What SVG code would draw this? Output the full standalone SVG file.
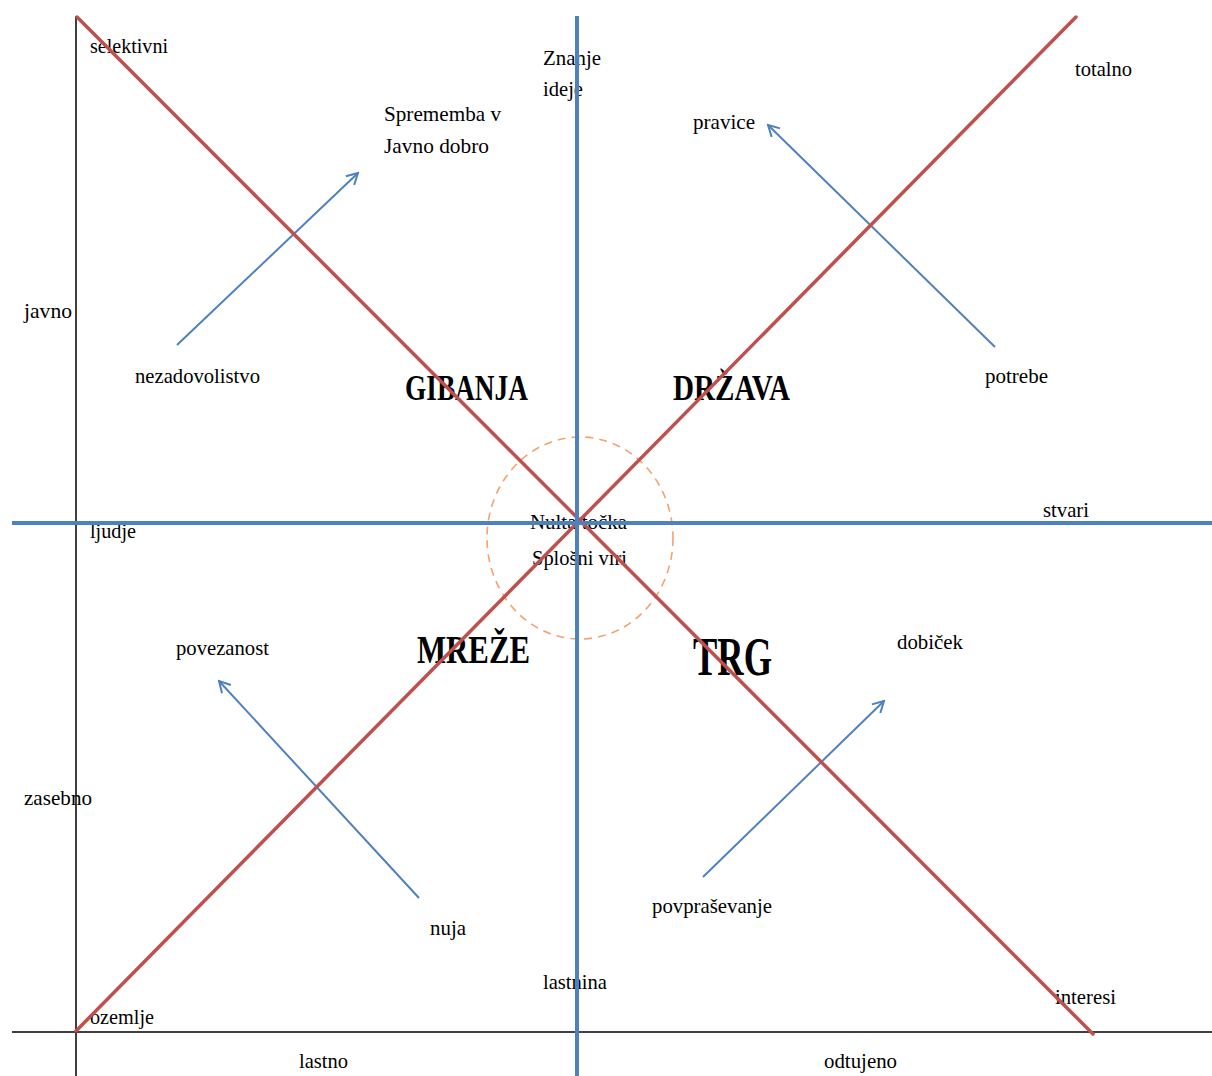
<svg xmlns="http://www.w3.org/2000/svg" width="1212" height="1076" viewBox="0 0 1212 1076">
  <style>
    .axis { stroke: #000; stroke-width: 1.5; fill: none; }
    .blue { stroke: #4f81bd; stroke-width: 4; fill: none; }
    .red { stroke: #c0504d; stroke-width: 3.5; fill: none; stroke-linecap: round; }
    .flow { stroke: #4f81bd; stroke-width: 2; fill: none; marker-end: url(#open); }
    .ring { stroke: #f2a36e; stroke-width: 1.6; stroke-dasharray: 8 6; fill: none; }
    text { font-family: "Liberation Serif", "Times New Roman", "DejaVu Serif", serif; fill: #000; }
    .t { font-size: 22px; }
    .b { font-weight: bold; }
  </style>
  <defs>
    <marker id="open" viewBox="0 0 14 14" refX="12" refY="7" markerWidth="14" markerHeight="14" markerUnits="userSpaceOnUse" orient="auto">
      <polyline points="1,1 12,7 1,13" fill="none" stroke="#4f81bd" stroke-width="2"/>
    </marker>
  </defs>
  <rect width="1212" height="1076" fill="#fff"/>

  <!-- frame axes -->
  <g id="axes">
    <line class="axis" x1="76" y1="16" x2="76" y2="1076"/>
    <line class="axis" x1="12" y1="1032" x2="1212" y2="1032"/>
  </g>

  <!-- quadrant titles -->
  <g id="gibanja"><text class="b" x="405" y="400" font-size="36" textLength="123" lengthAdjust="spacingAndGlyphs">GIBANJA</text></g>
  <g id="drzava"><text class="b" x="673" y="400" font-size="36" textLength="117" lengthAdjust="spacingAndGlyphs">DRŽAVA</text></g>
  <g id="mreze"><text class="b" x="417" y="663" font-size="40" textLength="113" lengthAdjust="spacingAndGlyphs">MREŽE</text></g>
  <g id="trg"><text class="b" x="693" y="675" font-size="54" textLength="79" lengthAdjust="spacingAndGlyphs">TRG</text></g>

  <!-- centre -->
  <g id="centre">
    <text class="t" x="530" y="529" textLength="97" lengthAdjust="spacingAndGlyphs">Nulta točka</text>
    <text class="t" x="532" y="565" textLength="95" lengthAdjust="spacingAndGlyphs">Splošni viri</text>
  </g>

  <!-- corner and axis labels -->
  <g id="selektivni"><text class="t" x="90" y="53" textLength="78" lengthAdjust="spacingAndGlyphs">selektivni</text></g>
  <g id="znanje">
    <text class="t" x="543" y="65" textLength="58" lengthAdjust="spacingAndGlyphs">Znanje</text>
    <text class="t" x="543" y="96" textLength="40" lengthAdjust="spacingAndGlyphs">ideje</text>
  </g>
  <g id="totalno"><text class="t" x="1075" y="76" textLength="57" lengthAdjust="spacingAndGlyphs">totalno</text></g>
  <g id="javno"><text class="t" x="24" y="318" textLength="48" lengthAdjust="spacingAndGlyphs">javno</text></g>
  <g id="ljudje"><text class="t" x="90" y="538" textLength="46" lengthAdjust="spacingAndGlyphs">ljudje</text></g>
  <g id="stvari"><text class="t" x="1043" y="517" textLength="46" lengthAdjust="spacingAndGlyphs">stvari</text></g>
  <g id="zasebno"><text class="t" x="24" y="805" textLength="68" lengthAdjust="spacingAndGlyphs">zasebno</text></g>
  <g id="lastnina"><text class="t" x="543" y="989" textLength="64" lengthAdjust="spacingAndGlyphs">lastnina</text></g>
  <g id="interesi"><text class="t" x="1055" y="1004" textLength="61" lengthAdjust="spacingAndGlyphs">interesi</text></g>
  <g id="ozemlje"><text class="t" x="90" y="1024" textLength="64" lengthAdjust="spacingAndGlyphs">ozemlje</text></g>
  <g id="lastno"><text class="t" x="299" y="1068" textLength="49" lengthAdjust="spacingAndGlyphs">lastno</text></g>
  <g id="odtujeno"><text class="t" x="824" y="1068" textLength="73" lengthAdjust="spacingAndGlyphs">odtujeno</text></g>

  <!-- arrow end labels -->
  <g id="sprememba">
    <text class="t" x="384" y="121" textLength="117" lengthAdjust="spacingAndGlyphs">Sprememba v</text>
    <text class="t" x="384" y="153" textLength="105" lengthAdjust="spacingAndGlyphs">Javno dobro</text>
  </g>
  <g id="nezadovolistvo"><text class="t" x="135" y="383" textLength="125" lengthAdjust="spacingAndGlyphs">nezadovolistvo</text></g>
  <g id="pravice"><text class="t" x="693" y="129" textLength="62" lengthAdjust="spacingAndGlyphs">pravice</text></g>
  <g id="potrebe"><text class="t" x="985" y="383" textLength="63" lengthAdjust="spacingAndGlyphs">potrebe</text></g>
  <g id="povezanost"><text class="t" x="176" y="655" textLength="93" lengthAdjust="spacingAndGlyphs">povezanost</text></g>
  <g id="nuja"><text class="t" x="430" y="935" textLength="36" lengthAdjust="spacingAndGlyphs">nuja</text></g>
  <g id="dobicek"><text class="t" x="897" y="649" textLength="66" lengthAdjust="spacingAndGlyphs">dobiček</text></g>
  <g id="povprasevanje"><text class="t" x="652" y="913" textLength="120" lengthAdjust="spacingAndGlyphs">povpraševanje</text></g>

  <!-- connectors: drawn last so the lines run over the labels -->
  <g id="connectors">
    <ellipse class="ring" cx="580" cy="538" rx="93" ry="101"/>
    <line class="flow" x1="177" y1="345" x2="358" y2="173"/>
    <line class="flow" x1="995" y1="347" x2="768" y2="125"/>
    <line class="flow" x1="419" y1="898" x2="219" y2="681"/>
    <line class="flow" x1="703" y1="877" x2="884" y2="701"/>
    <line class="red" x1="77" y1="17" x2="1093" y2="1034"/>
    <line class="red" x1="76" y1="1031" x2="1076" y2="17"/>
    <line class="blue" x1="577" y1="16" x2="577" y2="1076"/>
    <line class="blue" x1="12" y1="523" x2="1212" y2="523"/>
  </g>
</svg>
